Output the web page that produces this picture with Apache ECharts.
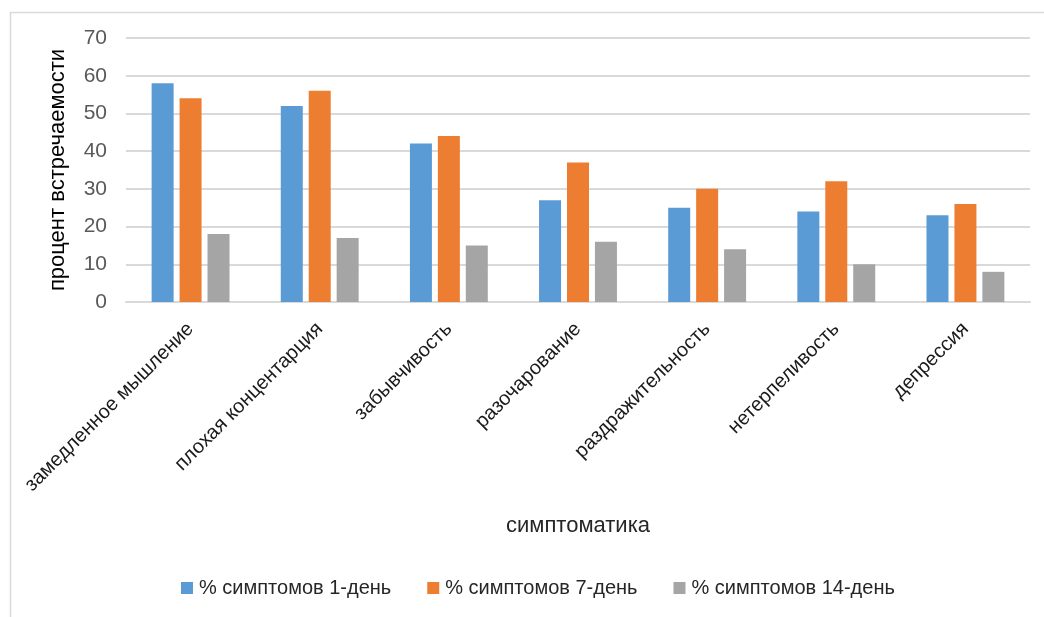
<!DOCTYPE html>
<html>
<head>
<meta charset="utf-8">
<script src="https://cdn.jsdelivr.net/npm/echarts@6/dist/echarts.min.js"></script>
<style>
  html, body { margin: 0; padding: 0; background: #ffffff; }
  #chart { width: 1044px; height: 617px; }
</style>
</head>
<body>
<div id="chart"></div>
<script>
// Symptom categories along the x axis
const categories = [
  'замедленное мышление',
  'плохая концентарция',
  'забывчивость',
  'разочарование',
  'раздражительность',
  'нетерпеливость',
  'депрессия'
];

// Share of patients with each symptom, percent
const day1 = [58, 52, 42, 27, 25, 24, 23];
const day7 = [54, 56, 44, 37, 30, 32, 26];
const day14 = [18, 17, 15, 16, 14, 10, 8];

const seriesNames = ['% симптомов 1-день', '% симптомов 7-день', '% симптомов 14-день'];
const seriesColors = ['#5b9bd5', '#ed7d31', '#a5a5a5'];

const FONT = 'Liberation Sans, Arial, sans-serif';

const chart = echarts.init(document.getElementById('chart'), null, { renderer: 'canvas' });

const values = [day1, day7, day14];

chart.setOption({
  backgroundColor: '#ffffff',
  animation: false,
  textStyle: { fontFamily: FONT },
  graphic: [{
    type: 'rect',
    shape: { x: 10.5, y: 12.5, width: 1100, height: 700 },
    style: { fill: 'none', stroke: '#d9d9d9', lineWidth: 1.5 },
    silent: true,
    z: -10
  }],
  grid: { left: 126, right: 14, top: 38, bottom: 315, containLabel: false },
  legend: {
    bottom: 14,
    left: 176,
    itemWidth: 12,
    itemHeight: 12,
    itemGap: 36,
    icon: 'rect',
    textStyle: { fontFamily: FONT, fontSize: 20, color: '#262626', padding: [0, 0, 0, 1] },
    data: seriesNames
  },
  xAxis: {
    type: 'category',
    data: categories,
    name: 'симптоматика',
    nameLocation: 'middle',
    nameGap: 213,
    nameTextStyle: { fontFamily: FONT, fontSize: 22, color: '#262626' },
    axisLine: { lineStyle: { color: '#d9d9d9', width: 2 } },
    axisTick: { show: false },
    axisLabel: {
      rotate: 45,
      interval: 0,
      margin: 24,
      fontFamily: FONT,
      fontSize: 20,
      color: '#1a1a1a'
    }
  },
  yAxis: {
    type: 'value',
    min: 0,
    max: 70,
    interval: 10,
    name: 'процент встречаемости',
    nameLocation: 'middle',
    nameGap: 57,
    nameRotate: 90,
    nameTextStyle: { fontFamily: FONT, fontSize: 22, color: '#000000' },
    axisLine: { show: false },
    axisTick: { show: false },
    axisLabel: { fontFamily: FONT, fontSize: 21, color: '#595959', margin: 19 },
    splitLine: { lineStyle: { color: '#d9d9d9', width: 2 } }
  },
  series: seriesNames.map((name, i) => ({
    name: name,
    type: 'bar',
    data: values[i],
    barWidth: 22,
    barGap: '27%',
    itemStyle: { color: seriesColors[i] }
  }))
});
</script>
</body>
</html>
